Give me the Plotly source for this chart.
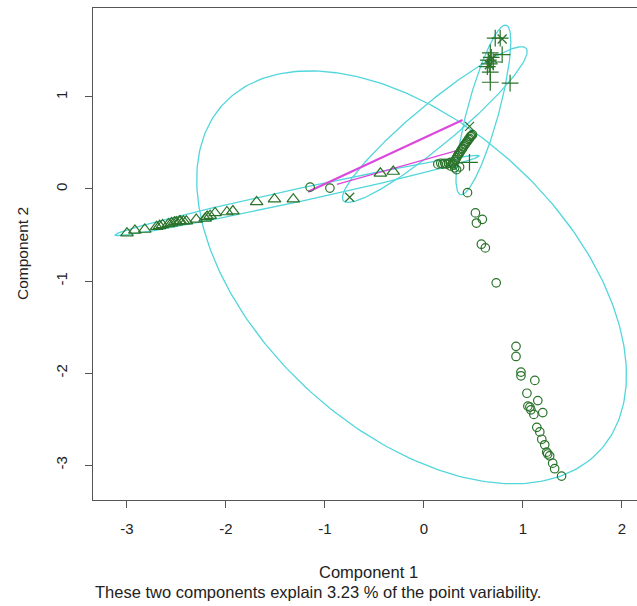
import numpy as np
import plotly.graph_objects as go

# ---------------- data ----------------
# cluster 1 : circles
c1_x = [-1.15, -0.95,
        0.14, 0.17, 0.19, 0.21, 0.23, 0.25, 0.27, 0.29, 0.30, 0.31, 0.32, 0.33, 0.34, 0.35,
        0.36, 0.37, 0.38, 0.39, 0.40, 0.41, 0.42, 0.43, 0.44, 0.45, 0.46, 0.47, 0.48, 0.49,
        0.33, 0.36, 0.31, 0.27,
        0.44, 0.52, 0.59, 0.53, 0.58, 0.62, 0.73,
        0.93, 0.93, 0.98, 0.98, 1.12, 1.04, 1.07, 1.15, 1.11, 1.20, 1.14, 1.17, 1.19,
        1.22, 1.25, 1.27, 1.30, 1.32, 1.39, 1.05, 1.08, 1.24]
c1_y = [0.02, 0.01,
        0.27, 0.28, 0.27, 0.28, 0.27, 0.28, 0.29, 0.28, 0.26, 0.30, 0.32, 0.34, 0.36, 0.38,
        0.39, 0.41, 0.43, 0.44, 0.46, 0.48, 0.49, 0.51, 0.52, 0.54, 0.55, 0.57, 0.58, 0.59,
        0.21, 0.24, 0.23, 0.25,
        -0.04, -0.26, -0.33, -0.37, -0.60, -0.64, -1.02,
        -1.71, -1.82, -1.99, -2.03, -2.08, -2.22, -2.37, -2.30, -2.45, -2.43, -2.59, -2.64, -2.72,
        -2.78, -2.88, -2.90, -2.98, -3.04, -3.12, -2.36, -2.40, -2.86]

# cluster 2 : triangles
c2_x = [-3.00, -2.92, -2.82, -2.70, -2.67, -2.64, -2.58, -2.55, -2.52, -2.50, -2.47, -2.46,
        -2.43, -2.40, -2.30, -2.21, -2.19, -2.16, -2.11, -1.99, -1.93, -1.69, -1.51, -1.32,
        -0.44, -0.31]
c2_y = [-0.48, -0.45, -0.44, -0.41, -0.40, -0.39, -0.38, -0.37, -0.36, -0.36, -0.35, -0.35,
        -0.35, -0.35, -0.33, -0.32, -0.30, -0.29, -0.26, -0.25, -0.24, -0.14, -0.11, -0.11,
        0.17, 0.19]

# cluster 3 : plus
c3_x = [0.72, 0.77, 0.67, 0.65, 0.70, 0.79, 0.64, 0.67, 0.67, 0.87, 0.46, 0.68, 0.66]
c3_y = [1.64, 1.64, 1.48, 1.40, 1.38, 1.46, 1.33, 1.27, 1.16, 1.15, 0.29, 1.43, 1.36]

# cluster 4 : crosses
c4_x = [-0.75, 0.46, 0.69, 0.66, 0.79]
c4_y = [-0.09, 0.68, 1.42, 1.35, 1.63]

# cluster ellipses (centre, semi-axes, rotation in degrees)
ell_cx = [-0.125, -1.28, 0.60, 0.11]
ell_cy = [-0.96, -0.07, 0.86, 0.70]
ell_a = [2.68, 1.89, 0.95, 1.24]
ell_b = [1.60, 0.07, 0.16, 0.22]
ell_angle = [-47.0, 13.15, 76.0, 42.0]

# connecting segments between clusters
seg_x0 = [-1.17, -0.88]
seg_y0 = [-0.03, 0.05]
seg_x1 = [0.39, 0.34]
seg_y1 = [0.75, 0.42]
seg_w = [2.2, 1.3]

x_ticks = [-3, -2, -1, 0, 1, 2]
y_ticks = [-3, -2, -1, 0, 1]

# ---------------- figure ----------------
PT = "#2a722a"
CYAN = "#52d6dc"
MAG = "#dc48dc"

fig = go.Figure()

t = np.linspace(0, 2 * np.pi, 300)
for cx, cy, a, b, ang in zip(ell_cx, ell_cy, ell_a, ell_b, ell_angle):
    th = np.radians(ang)
    ex = cx + a * np.cos(t) * np.cos(th) - b * np.sin(t) * np.sin(th)
    ey = cy + a * np.cos(t) * np.sin(th) + b * np.sin(t) * np.cos(th)
    fig.add_trace(go.Scatter(x=ex, y=ey, mode="lines",
                             line=dict(color=CYAN, width=1.3), hoverinfo="skip"))

for x0, y0, x1, y1, w in zip(seg_x0, seg_y0, seg_x1, seg_y1, seg_w):
    fig.add_trace(go.Scatter(x=[x0, x1], y=[y0, y1], mode="lines",
                             line=dict(color=MAG, width=w), hoverinfo="skip"))

fig.add_trace(go.Scatter(x=c1_x, y=c1_y, mode="markers",
                         marker=dict(symbol="circle-open", size=8.5, color=PT,
                                     line=dict(width=1.2, color=PT))))
fig.add_trace(go.Scatter(x=c2_x, y=c2_y, mode="markers",
                         marker=dict(symbol="triangle-up-open", size=11, color=PT,
                                     line=dict(width=1.2, color=PT))))
fig.add_trace(go.Scatter(x=c3_x, y=c3_y, mode="markers",
                         marker=dict(symbol="cross-thin-open", size=12, color=PT,
                                     line=dict(width=1.2, color=PT))))
fig.add_trace(go.Scatter(x=c4_x, y=c4_y, mode="markers",
                         marker=dict(symbol="x-thin-open", size=9, color=PT,
                                     line=dict(width=1.2, color=PT))))

FONT = "Liberation Sans, Arial, sans-serif"
fig.update_layout(
    width=637, height=606,
    margin=dict(l=93, r=0, t=8, b=106),
    paper_bgcolor="white", plot_bgcolor="white",
    showlegend=False,
    font=dict(family=FONT, size=15, color="#222"),
    xaxis=dict(range=[-3.343, 2.152], tickvals=x_ticks, ticktext=[str(v) for v in x_ticks],
               ticks="outside", ticklen=7, tickcolor="#555", showline=True, linecolor="#555",
               linewidth=1, mirror=True, showgrid=False, zeroline=False,
               ticklabelstandoff=8, tickfont=dict(size=15, color="#222")),
    yaxis=dict(range=[-3.38, 1.967], tickvals=y_ticks, ticktext=[str(v) for v in y_ticks],
               ticks="outside", ticklen=7, tickcolor="#555", showline=True, linecolor="#555",
               linewidth=1, mirror=False, showgrid=False, zeroline=False, tickangle=-90,
               ticklabelstandoff=12, tickfont=dict(size=15, color="#222")),
    annotations=[
        dict(text="Component 2", xref="paper", yref="paper", x=-0.1305, y=0.5,
             xanchor="center", yanchor="middle",
             textangle=-90, showarrow=False, font=dict(size=15.5, color="#222")),
        dict(text="Component 1", xref="paper", yref="paper", x=0.507, y=-0.146,
             xanchor="center", yanchor="middle",
             showarrow=False, font=dict(size=16.5, color="#222")),
        dict(text="These two components explain 3.23 % of the point variability.",
             xref="paper", yref="paper", x=0.4136, y=-0.187,
             xanchor="center", yanchor="middle",
             showarrow=False, font=dict(size=16.5, color="#222")),
    ],
)

fig.write_html("out.html")
